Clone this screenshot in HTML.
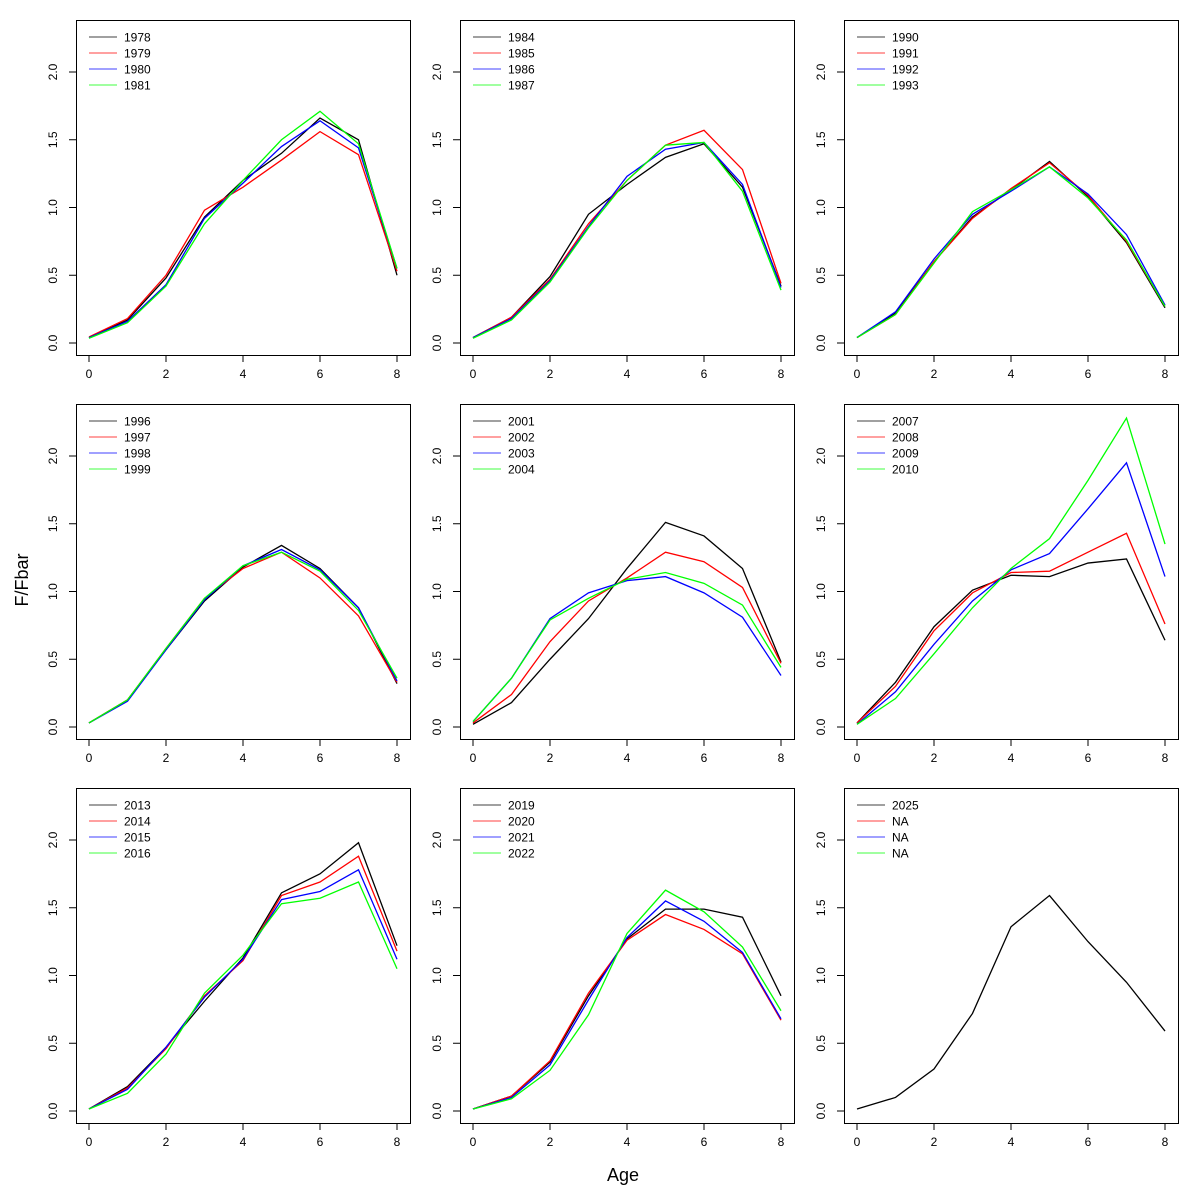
<!DOCTYPE html>
<html><head><meta charset="utf-8">
<style>
html,body{margin:0;padding:0;background:#fff;}
svg{display:block;font-family:"Liberation Sans",Arial,sans-serif;}
</style></head>
<body>
<svg id="chart" width="1200" height="1200" viewBox="0 0 1200 1200" xmlns="http://www.w3.org/2000/svg">
<text x="0" y="0" font-size="18" text-anchor="middle" transform="translate(28,580) rotate(-90)">F/Fbar</text>
<text x="623" y="1181" font-size="18" text-anchor="middle">Age</text>
</svg>
<script>
const ages = [0,1,2,3,4,5,6,7,8];
const colors = ["#000000","#ff0000","#0000ff","#00ff00"];
const xTicks = [0,2,4,6,8];
const yTicks = [0,0.5,1,1.5,2];
const yTickLabels = ["0.0","0.5","1.0","1.5","2.0"];
const legends1 = ["1978","1979","1980","1981"];
const legends2 = ["1984","1985","1986","1987"];
const legends3 = ["1990","1991","1992","1993"];
const legends4 = ["1996","1997","1998","1999"];
const legends5 = ["2001","2002","2003","2004"];
const legends6 = ["2007","2008","2009","2010"];
const legends7 = ["2013","2014","2015","2016"];
const legends8 = ["2019","2020","2021","2022"];
const legends9 = ["2025","NA","NA","NA"];
const series1 = [
 [0.04,0.17,0.48,0.93,1.2,1.4,1.66,1.5,0.5],
 [0.045,0.18,0.5,0.98,1.15,1.35,1.56,1.39,0.53],
 [0.04,0.16,0.43,0.92,1.18,1.45,1.64,1.44,0.55],
 [0.035,0.15,0.42,0.88,1.2,1.5,1.71,1.47,0.55]];
const series2 = [
 [0.04,0.19,0.49,0.95,1.17,1.37,1.47,1.15,0.42],
 [0.04,0.19,0.47,0.88,1.2,1.46,1.57,1.28,0.44],
 [0.04,0.18,0.46,0.86,1.23,1.43,1.48,1.17,0.41],
 [0.035,0.17,0.45,0.85,1.2,1.46,1.48,1.12,0.39]];
const series3 = [
 [0.04,0.22,0.6,0.93,1.13,1.34,1.08,0.74,0.26],
 [0.04,0.21,0.6,0.92,1.14,1.33,1.09,0.75,0.27],
 [0.04,0.23,0.62,0.95,1.12,1.3,1.1,0.8,0.28],
 [0.04,0.21,0.59,0.97,1.13,1.3,1.07,0.76,0.27]];
const series4 = [
 [0.03,0.2,0.57,0.93,1.18,1.34,1.17,0.88,0.32],
 [0.03,0.2,0.58,0.95,1.17,1.29,1.1,0.82,0.33],
 [0.03,0.19,0.57,0.94,1.19,1.31,1.16,0.88,0.34],
 [0.03,0.2,0.58,0.95,1.19,1.29,1.15,0.86,0.36]];
const series5 = [
 [0.02,0.18,0.5,0.8,1.17,1.51,1.41,1.17,0.48],
 [0.03,0.24,0.63,0.93,1.1,1.29,1.22,1.03,0.47],
 [0.04,0.36,0.8,0.99,1.08,1.11,0.99,0.81,0.38],
 [0.04,0.36,0.79,0.95,1.09,1.14,1.06,0.9,0.44]];
const series6 = [
 [0.03,0.33,0.74,1.01,1.12,1.11,1.21,1.24,0.64],
 [0.03,0.3,0.71,0.99,1.14,1.15,1.29,1.43,0.76],
 [0.02,0.26,0.61,0.93,1.16,1.28,1.61,1.95,1.11],
 [0.02,0.21,0.54,0.88,1.17,1.39,1.82,2.28,1.35]];
const series7 = [
 [0.015,0.18,0.47,0.81,1.13,1.61,1.75,1.98,1.22],
 [0.015,0.17,0.46,0.85,1.11,1.59,1.69,1.88,1.18],
 [0.015,0.16,0.47,0.84,1.12,1.56,1.62,1.78,1.12],
 [0.015,0.13,0.42,0.87,1.15,1.53,1.57,1.69,1.05]];
const series8 = [
 [0.015,0.11,0.36,0.85,1.27,1.49,1.49,1.43,0.85],
 [0.015,0.11,0.37,0.87,1.26,1.45,1.34,1.16,0.67],
 [0.015,0.1,0.34,0.82,1.28,1.55,1.4,1.17,0.68],
 [0.015,0.09,0.3,0.71,1.31,1.63,1.47,1.21,0.74]];
const series9 = [
 [0.015,0.1,0.31,0.72,1.36,1.59,1.25,0.95,0.59]];

const panels = [
 {s:series1,l:legends1},{s:series2,l:legends2},{s:series3,l:legends3},
 {s:series4,l:legends4},{s:series5,l:legends5},{s:series6,l:legends6},
 {s:series7,l:legends7},{s:series8,l:legends8},{s:series9,l:legends9}];

const NS="http://www.w3.org/2000/svg";
const svg=document.getElementById('chart');
function mk(tag,attrs,parent){const e=document.createElementNS(NS,tag);for(const k in attrs)e.setAttribute(k,attrs[k]);(parent||svg).appendChild(e);return e;}

const colX=[76,460,844], rowY=[20,404,788], W=334, H=335;
panels.forEach((p,i)=>{
  const bx=colX[i%3], by=rowY[Math.floor(i/3)];
  const g=mk('g',{});
  
  
  const sx=v=>bx+13+v*38.5;
  const sy=v=>by+323-v*135.5;
  const box=mk('rect',{x:bx+0.5,y:by+0.5,width:W,height:H,fill:'none',stroke:'#000','stroke-width':1},g);
  
  
  const xa=mk('g',{},g);
  
  
  mk('line',{x1:sx(xTicks[0]),x2:sx(xTicks[xTicks.length-1]),y1:by+H+0.5,y2:by+H+0.5,stroke:'#000'},xa);
  xTicks.forEach(t=>{
    mk('line',{x1:sx(t),x2:sx(t),y1:by+H,y2:by+H+7,stroke:'#000'},xa);
    const tx=mk('text',{x:sx(t),y:by+H+23,'font-size':12,'text-anchor':'middle'},xa);
    tx.textContent=t;
    
    
  });
  const ya=mk('g',{},g);
  
  
  mk('line',{x1:bx+0.5,x2:bx+0.5,y1:sy(yTicks[0]),y2:sy(yTicks[yTicks.length-1]),stroke:'#000'},ya);
  yTicks.forEach((t,j)=>{
    mk('line',{x1:bx-7,x2:bx,y1:sy(t),y2:sy(t),stroke:'#000'},ya);
    const tx=mk('text',{x:0,y:0,'font-size':12,'text-anchor':'middle',transform:`translate(${bx-19},${sy(t)}) rotate(-90)`},ya);
    tx.textContent=yTickLabels[j];
    
    
  });
  p.s.forEach((vals,k)=>{
    const pl=mk('polyline',{points:vals.map((v,a)=>sx(ages[a])+','+sy(v)).join(' '),fill:'none',stroke:colors[k],'stroke-width':1.3},g);
    
    
  });
  const lg=mk('g',{},g);
  
  
  p.l.forEach((lab,k)=>{
    const ly=by+17+k*16;
    const e=mk('g',{},lg);
    
    
    mk('line',{x1:bx+13,x2:bx+41,y1:ly,y2:ly,stroke:colors[k],'stroke-width':0.8},e);
    const t=mk('text',{x:bx+48,y:ly+4.5,'font-size':12},e);
    t.textContent=lab;
  });
});
</script>
</body></html>
